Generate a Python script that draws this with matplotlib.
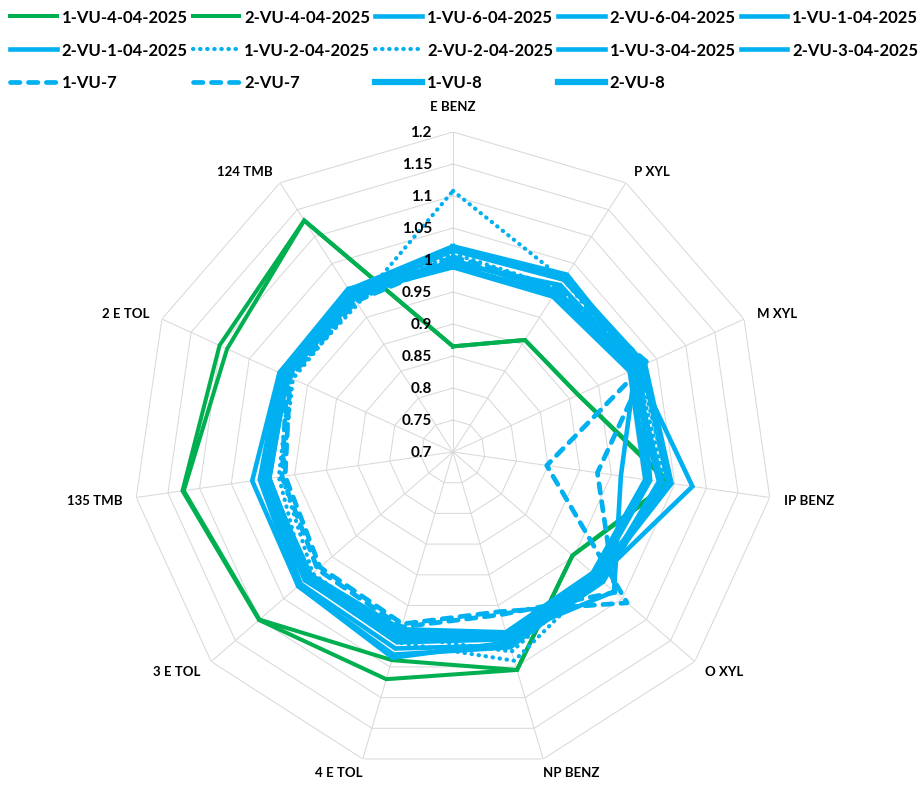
import numpy as np
import matplotlib
matplotlib.use("Agg")
import matplotlib.pyplot as plt

plt.rcParams['font.family'] = ['Lato', 'DejaVu Sans']

categories = ['E BENZ', 'P XYL', 'M XYL', 'IP BENZ', 'O XYL', 'NP BENZ',
              '4 E TOL', '3 E TOL', '135 TMB', '2 E TOL', '124 TMB']

# series values (axis order as above)
vu4_1 = [0.865, 0.908, 0.915, 1.044, 0.947, 1.055, 1.070, 1.101, 1.127, 1.101, 1.130]
vu4_2 = [0.865, 0.908, 0.915, 1.040, 0.947, 1.055, 1.039, 1.100, 1.125, 1.088, 1.130]
vu6_1 = [1.017, 1.025, 1.030, 1.045, 1.000, 1.000, 1.005, 1.000, 0.990, 0.985, 0.985]
vu6_2 = [1.015, 1.020, 1.025, 1.040, 0.995, 1.005, 1.010, 1.005, 0.995, 0.990, 0.990]
vu1_1 = [0.990, 0.995, 1.010, 1.030, 1.010, 1.015, 1.020, 1.015, 1.000, 0.995, 0.995]
vu1_2 = [0.992, 0.990, 1.005, 1.025, 1.005, 1.018, 1.030, 1.020, 1.005, 0.998, 1.000]
vu2_1 = [1.108, 1.020, 1.015, 1.035, 1.000, 1.040, 1.010, 1.005, 0.975, 0.980, 0.975]
vu2_2 = [1.010, 1.005, 1.020, 1.040, 0.995, 1.025, 1.000, 0.990, 0.970, 0.975, 0.980]
vu3_1 = [1.000, 1.000, 1.013, 0.965, 1.033, 1.000, 0.995, 1.000, 0.990, 0.985, 0.985]
vu3_2 = [0.995, 1.010, 1.015, 1.078, 1.000, 1.010, 1.035, 1.020, 1.017, 0.998, 1.003]
vu7_1 = [1.000, 1.000, 1.030, 0.848, 1.060, 0.960, 0.980, 0.975, 0.965, 0.980, 0.980]
vu7_2 = [1.005, 1.005, 1.035, 0.928, 1.035, 0.965, 0.985, 0.980, 0.970, 0.985, 0.985]
vu8_1 = [1.020, 1.028, 1.020, 1.010, 0.995, 1.000, 1.000, 1.005, 1.000, 0.995, 1.000]
vu8_2 = [0.990, 0.990, 1.005, 1.005, 0.990, 0.995, 0.990, 0.995, 0.995, 0.990, 0.995]

names = ['1-VU-4-04-2025', '2-VU-4-04-2025', '1-VU-6-04-2025', '2-VU-6-04-2025',
         '1-VU-1-04-2025', '2-VU-1-04-2025', '1-VU-2-04-2025', '2-VU-2-04-2025',
         '1-VU-3-04-2025', '2-VU-3-04-2025', '1-VU-7', '2-VU-7', '1-VU-8', '2-VU-8']
series = [vu4_1, vu4_2, vu6_1, vu6_2, vu1_1, vu1_2, vu2_1, vu2_2,
          vu3_1, vu3_2, vu7_1, vu7_2, vu8_1, vu8_2]

GREEN = '#00B050'
BLUE = '#00B0F0'
colors = [GREEN, GREEN] + [BLUE] * 12
styles = ['solid'] * 6 + [(0, (0.1, 1.6))] * 2 + ['solid'] * 2 + [(0, (2.0, 1.8))] * 2 + ['solid'] * 2
widths = [2.9, 2.9] + [3.3] * 4 + [3.0] * 2 + [3.3] * 2 + [3.4, 3.4] + [4.5, 4.5]

rings = np.round(np.arange(0.75, 1.2001, 0.05), 2)
ticks = np.round(np.arange(0.7, 1.2001, 0.05), 2)

fig = plt.figure(figsize=(9.21, 8.04), dpi=100)
ax = fig.add_axes([0.1444, 0.0386, 0.6949, 0.796], projection='polar')
ax.set_theta_zero_location('N')
ax.set_theta_direction(-1)
ax.set_ylim(0.7, 1.2)
ax.grid(False)
ax.set_xticks([])
ax.set_yticks([])
ax.spines['polar'].set_visible(False)

n = len(categories)
angles = np.arange(n) * 2 * np.pi / n
closed = np.append(angles, angles[0])

# polygon grid like excel
for v in rings:
    ax.plot(closed, [v] * (n + 1), color='#d9d9d9', lw=0.75, zorder=0)
for a in angles:
    ax.plot([a, a], [0.7, 1.2], color='#d9d9d9', lw=0.75, zorder=0)

handles = []
for i, (vals, name) in enumerate(zip(series, names)):
    ln, = ax.plot(closed, vals + vals[:1], color=colors[i], lw=widths[i],
                  linestyle=styles[i], dash_capstyle='round', solid_joinstyle='miter',
                  zorder=2 + i, label=name)
    handles.append(ln)

# radial value labels
for v in ticks:
    ax.annotate(f'{v:g}', xy=(0, v), xytext=(-21, 0), textcoords='offset pixels',
                ha='right', va='center', fontsize=11, fontweight='bold', zorder=30,
                annotation_clip=False)

# category labels
for a, lab in zip(angles, categories):
    s, c = np.sin(a), np.cos(a)
    ha = 'left' if s > 0.2 else ('right' if s < -0.2 else 'center')
    dx = 14 * s if abs(s) > 0.3 else 0
    dy = 14 * c + (12 if c > 0.9 else 0)
    ax.annotate(lab, xy=(a, 1.2), xytext=(dx, dy), textcoords='offset pixels',
                ha=ha, va='center', fontsize=9.5, fontweight='bold', annotation_clip=False)

# excel fills the legend row by row
order = [0, 5, 10, 1, 6, 11, 2, 7, 12, 3, 8, 13, 4, 9]
leg = fig.legend([handles[i] for i in order], [names[i] for i in order],
                 loc='upper left', bbox_to_anchor=(0.0, 1.0), ncol=5, frameon=False,
                 prop={'weight': 'bold', 'size': 12}, handlelength=2.8,
                 handletextpad=0.3, columnspacing=0.3, labelspacing=1.0,
                 borderaxespad=0.4, borderpad=0.2)

fig.savefig('out.png', dpi=100)
